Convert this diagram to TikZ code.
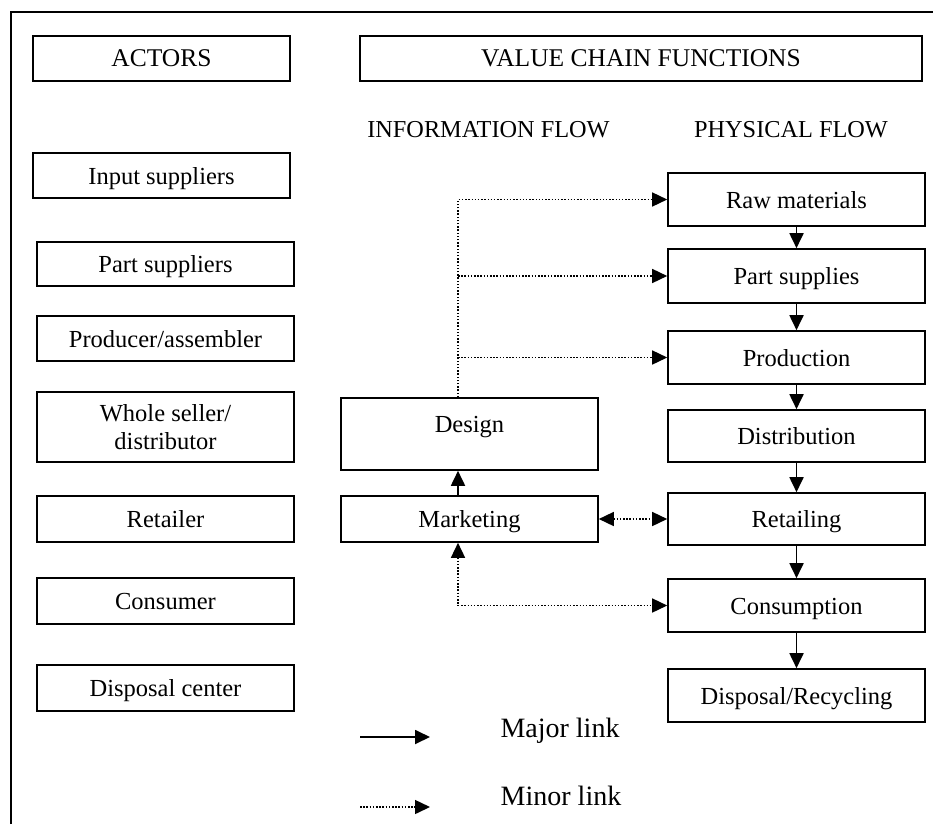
\documentclass[tikz,border=0pt]{standalone}
\usepackage{fontspec}
\setmainfont{Liberation Serif}
\usepackage{tikz}
\usetikzlibrary{arrows.meta}

\tikzset{
  >={Triangle[length=15pt,width=14pt]},
  box/.style={draw, line width=1.6pt, inner sep=0pt, minimum width=257,
    text height=19pt, text depth=2pt, font=\fontsize{24.5}{28}\selectfont},
  head/.style={box, minimum height=45, font=\fontsize{25.5}{30}\selectfont},
  flowtitle/.style={font=\fontsize{24.3}{28}\selectfont},
  legend/.style={anchor=base, font=\fontsize{28}{32}\selectfont},
  major/.style={line width=1.8pt, ->},
  minor/.style={line width=1.5pt, dash pattern=on 1.5pt off 1.7pt, ->}
}

\begin{document}
\begin{tikzpicture}[x=1pt,y=-1pt]
  \useasboundingbox (0,0) rectangle (933,824);
  % Outer frame
  \draw[line width=1.8pt] (11,824) -- (11,12) -- (933,12);
  % Headers
  \node[head] (act) at (161.5,58.5) {ACTORS};
  \node[head, minimum width=562] (vcf) at (641,58.5) {VALUE CHAIN FUNCTIONS};
  \node[flowtitle] (inf) at (488.5,130) {INFORMATION FLOW};
  \node[flowtitle] (phy) at (791,130) {PHYSICAL FLOW};
  % Actors
  \node[box, minimum height=45] (inp) at (161.5,175.5) {Input suppliers};
  \node[box, minimum height=44] (psu) at (165.5,264) {Part suppliers};
  \node[box, minimum height=45] (pro) at (165.5,338.5) {Producer/assembler};
  \node[box, minimum height=70, align=center, text height=, text depth=] (whs) at (165.5,427) {Whole seller/\\distributor};
  \node[box, minimum height=46] (ret) at (165.5,519) {Retailer};
  \node[box, minimum height=46] (con) at (165.5,601) {Consumer};
  \node[box, minimum height=46] (dsc) at (165.5,688) {Disposal center};
  % Information flow
  \node[box, minimum height=72, text height=34pt, text depth=38pt] (des) at (469.5,434) {Design};
  \node[box, minimum height=46] (mkt) at (469.5,519) {Marketing};
  % Physical flow
  \node[box, minimum height=53] (raw) at (796.5,199.5) {Raw materials};
  \node[box, minimum height=54] (pts) at (796.5,276) {Part supplies};
  \node[box, minimum height=53] (prd) at (796.5,357.5) {Production};
  \node[box, minimum height=52] (dis) at (796.5,436) {Distribution};
  \node[box, minimum height=52] (rtl) at (796.5,519) {Retailing};
  \node[box, minimum height=53] (cns) at (796.5,605.5) {Consumption};
  \node[box, minimum height=53] (rec) at (796.5,695.5) {Disposal/Recycling};
  % Major links
  \foreach \a/\b in {raw/pts,pts/prd,prd/dis,dis/rtl,rtl/cns,cns/rec}
    \draw[major] (\a) -- (\b);
  \coordinate (spine) at (458,0);
  \draw[major] (mkt.north -| spine) -- (des.south -| spine);
  % Minor links
  \draw[minor] (des.north -| spine) |- (raw.west);
  \draw[minor] (pts.west -| spine) -- (pts.west);
  \draw[minor] (prd.west -| spine) -- (prd.west);
  \draw[minor,<->] (mkt) -- (rtl);
  \draw[minor,<->] (mkt.south -| spine) |- (cns.west);
  % Legend
  \coordinate (majA) at (360,737);
  \coordinate (majB) at (430,737);
  \draw[major] (majA) -- (majB);
  \node[legend] (majT) at (560,737) {Major link};
  \coordinate (minA) at (360,807);
  \coordinate (minB) at (430,807);
  \draw[minor] (minA) -- (minB);
  \node[legend] (minT) at (561,805) {Minor link};
\end{tikzpicture}
\end{document}
